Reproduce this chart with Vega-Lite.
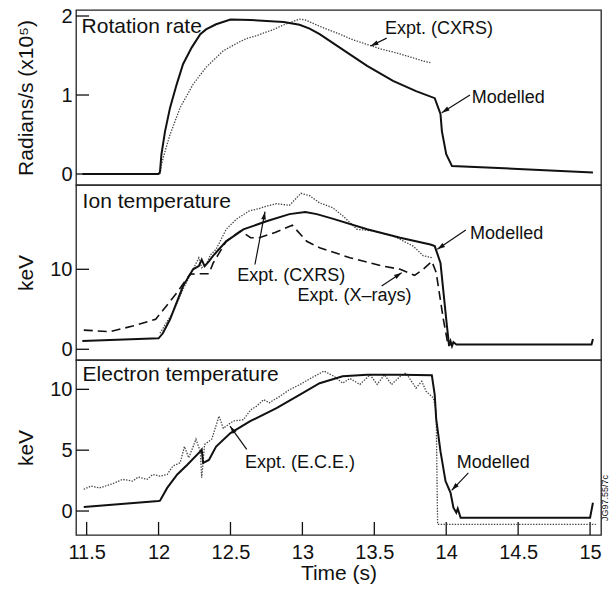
{
  "$schema": "https://vega.github.io/schema/vega-lite/v6.json",
  "background": "white",
  "padding": {"left": 14, "top": 5, "right": 0, "bottom": 0},
  "spacing": 0,
  "bounds": "flush",
  "config": {
    "font": "Liberation Sans",
    "view": {"stroke": "#222", "strokeWidth": 1.3},
    "axis": {
      "grid": false, "domain": false, "ticks": false, "tickSize": 0,
      "labelFontSize": 20, "labelColor": "#111", "labelFlush": false, "labelOverlap": false,
      "titleFontSize": 21, "titleFontWeight": "normal", "titleColor": "#111", "titleBaseline": "alphabetic"
    },
    "axisY": {"labelPadding": 4, "titleX": -44},
    "axisX": {"labelPadding": 7, "titleY": 44},
    "text": {"fontSize": 18, "color": "#111", "align": "left", "baseline": "alphabetic"}
  },
  "datasets": {
    "rotModel": [
      {"t": 11.47, "v": 0}, {"t": 12.0, "v": 0}, {"t": 12.01, "v": 0.03}, {"t": 12.02, "v": 0.25},
      {"t": 12.045, "v": 0.54}, {"t": 12.08, "v": 0.84}, {"t": 12.126, "v": 1.135}, {"t": 12.17, "v": 1.39},
      {"t": 12.23, "v": 1.6}, {"t": 12.29, "v": 1.77}, {"t": 12.33, "v": 1.83}, {"t": 12.4, "v": 1.895},
      {"t": 12.5, "v": 1.955}, {"t": 12.64, "v": 1.95}, {"t": 12.87, "v": 1.925}, {"t": 12.98, "v": 1.89},
      {"t": 13.05, "v": 1.84}, {"t": 13.12, "v": 1.77}, {"t": 13.26, "v": 1.6}, {"t": 13.45, "v": 1.37},
      {"t": 13.63, "v": 1.18}, {"t": 13.79, "v": 1.05}, {"t": 13.92, "v": 0.96}, {"t": 13.96, "v": 0.76},
      {"t": 13.97, "v": 0.54}, {"t": 14.0, "v": 0.25}, {"t": 14.04, "v": 0.1}, {"t": 14.5, "v": 0.065},
      {"t": 15.02, "v": 0.02}
    ],
    "rotCXRS": [
      {"t": 12.01, "v": 0}, {"t": 12.02, "v": 0.12}, {"t": 12.05, "v": 0.32}, {"t": 12.08, "v": 0.5},
      {"t": 12.15, "v": 0.84}, {"t": 12.24, "v": 1.135}, {"t": 12.33, "v": 1.35}, {"t": 12.45, "v": 1.56},
      {"t": 12.57, "v": 1.68}, {"t": 12.62, "v": 1.72}, {"t": 12.68, "v": 1.75}, {"t": 12.74, "v": 1.79},
      {"t": 12.8, "v": 1.83}, {"t": 12.86, "v": 1.88}, {"t": 12.91, "v": 1.915}, {"t": 12.98, "v": 1.96},
      {"t": 13.02, "v": 1.95}, {"t": 13.12, "v": 1.87}, {"t": 13.26, "v": 1.77}, {"t": 13.35, "v": 1.7},
      {"t": 13.45, "v": 1.64}, {"t": 13.55, "v": 1.58}, {"t": 13.65, "v": 1.535}, {"t": 13.77, "v": 1.47},
      {"t": 13.84, "v": 1.43}, {"t": 13.89, "v": 1.41}
    ],
    "ionModel": [
      {"t": 11.47, "v": 1.04}, {"t": 12.0, "v": 1.37}, {"t": 12.03, "v": 2.0}, {"t": 12.08, "v": 3.75},
      {"t": 12.17, "v": 7.9}, {"t": 12.24, "v": 10.0}, {"t": 12.28, "v": 10.4}, {"t": 12.3, "v": 11.2},
      {"t": 12.32, "v": 10.4}, {"t": 12.35, "v": 11.0}, {"t": 12.38, "v": 11.7}, {"t": 12.47, "v": 13.5},
      {"t": 12.59, "v": 15.0}, {"t": 12.75, "v": 16.0}, {"t": 12.91, "v": 16.9}, {"t": 13.02, "v": 17.15},
      {"t": 13.1, "v": 16.9}, {"t": 13.215, "v": 16.3}, {"t": 13.45, "v": 15.0}, {"t": 13.68, "v": 13.95},
      {"t": 13.89, "v": 13.1}, {"t": 13.92, "v": 12.9}, {"t": 13.96, "v": 10.8}, {"t": 14.0, "v": 3.75},
      {"t": 14.02, "v": 0.4}, {"t": 14.03, "v": 1.0}, {"t": 14.04, "v": 0.4}, {"t": 14.05, "v": 0.9},
      {"t": 14.07, "v": 0.6}, {"t": 15.01, "v": 0.6}, {"t": 15.02, "v": 1.3}
    ],
    "ionCXRS": [
      {"t": 12.01, "v": 2.0}, {"t": 12.06, "v": 3.5}, {"t": 12.1, "v": 4.6}, {"t": 12.17, "v": 7.5},
      {"t": 12.24, "v": 10.0}, {"t": 12.28, "v": 11.45}, {"t": 12.3, "v": 10.2}, {"t": 12.33, "v": 10.5},
      {"t": 12.36, "v": 11.8}, {"t": 12.4, "v": 12.5}, {"t": 12.47, "v": 15.0}, {"t": 12.54, "v": 16.25},
      {"t": 12.63, "v": 17.3}, {"t": 12.7, "v": 17.6}, {"t": 12.75, "v": 17.9}, {"t": 12.82, "v": 18.2},
      {"t": 12.91, "v": 18.0}, {"t": 12.99, "v": 19.5}, {"t": 13.05, "v": 19.2}, {"t": 13.12, "v": 18.3},
      {"t": 13.21, "v": 17.7}, {"t": 13.28, "v": 16.7}, {"t": 13.38, "v": 15.0}, {"t": 13.49, "v": 14.8},
      {"t": 13.63, "v": 14.2}, {"t": 13.77, "v": 12.9}, {"t": 13.84, "v": 11.7}, {"t": 13.9, "v": 11.45}
    ],
    "ionXray": [
      {"t": 11.48, "v": 2.4}, {"t": 11.66, "v": 2.2}, {"t": 11.82, "v": 2.9}, {"t": 11.98, "v": 3.75},
      {"t": 12.12, "v": 6.9}, {"t": 12.22, "v": 9.4}, {"t": 12.31, "v": 9.45}, {"t": 12.35, "v": 9.45},
      {"t": 12.38, "v": 10.8}, {"t": 12.47, "v": 13.5}, {"t": 12.57, "v": 14.8}, {"t": 12.64, "v": 13.95},
      {"t": 12.7, "v": 13.95}, {"t": 12.81, "v": 14.6}, {"t": 12.93, "v": 15.5}, {"t": 13.03, "v": 13.5},
      {"t": 13.12, "v": 12.7}, {"t": 13.33, "v": 11.45}, {"t": 13.56, "v": 10.4}, {"t": 13.68, "v": 10.0},
      {"t": 13.78, "v": 9.25}, {"t": 13.84, "v": 10.0}, {"t": 13.9, "v": 11.0}, {"t": 13.93, "v": 9.6},
      {"t": 13.98, "v": 3.75}, {"t": 14.01, "v": 0.8}
    ],
    "elModel": [
      {"t": 11.48, "v": 0.33}, {"t": 12.0, "v": 0.82}, {"t": 12.01, "v": 0.85}, {"t": 12.06, "v": 1.9},
      {"t": 12.13, "v": 3.0}, {"t": 12.2, "v": 3.8}, {"t": 12.29, "v": 4.9}, {"t": 12.3, "v": 5.05},
      {"t": 12.31, "v": 3.96}, {"t": 12.35, "v": 4.2}, {"t": 12.4, "v": 5.3}, {"t": 12.5, "v": 6.4},
      {"t": 12.64, "v": 7.4}, {"t": 12.82, "v": 8.45}, {"t": 12.98, "v": 9.55}, {"t": 13.12, "v": 10.5},
      {"t": 13.28, "v": 11.07}, {"t": 13.45, "v": 11.2}, {"t": 13.68, "v": 11.2}, {"t": 13.9, "v": 11.15},
      {"t": 13.92, "v": 9.55}, {"t": 13.93, "v": 7.6}, {"t": 13.96, "v": 4.9}, {"t": 13.995, "v": 2.46},
      {"t": 14.03, "v": 1.5}, {"t": 14.05, "v": 0.27}, {"t": 14.07, "v": -0.14}, {"t": 14.08, "v": 0.2},
      {"t": 14.1, "v": -0.55}, {"t": 15.0, "v": -0.55}, {"t": 15.02, "v": 0.68}
    ],
    "elECE": [
      {"t": 11.48, "v": 1.78}, {"t": 11.53, "v": 2.05}, {"t": 11.59, "v": 1.9}, {"t": 11.68, "v": 2.24},
      {"t": 11.75, "v": 2.6}, {"t": 11.82, "v": 2.46}, {"t": 11.86, "v": 2.8}, {"t": 11.92, "v": 2.6},
      {"t": 11.96, "v": 3.0}, {"t": 12.01, "v": 2.87}, {"t": 12.06, "v": 3.0}, {"t": 12.1, "v": 3.7},
      {"t": 12.15, "v": 3.96}, {"t": 12.18, "v": 5.3}, {"t": 12.21, "v": 4.37}, {"t": 12.26, "v": 5.9},
      {"t": 12.29, "v": 4.9}, {"t": 12.3, "v": 2.73}, {"t": 12.32, "v": 5.47}, {"t": 12.37, "v": 5.9},
      {"t": 12.42, "v": 7.8}, {"t": 12.45, "v": 6.8}, {"t": 12.52, "v": 7.4}, {"t": 12.59, "v": 7.5},
      {"t": 12.64, "v": 8.3}, {"t": 12.68, "v": 8.6}, {"t": 12.73, "v": 9.15}, {"t": 12.77, "v": 8.9},
      {"t": 12.84, "v": 9.4}, {"t": 12.91, "v": 9.97}, {"t": 12.98, "v": 10.38}, {"t": 13.05, "v": 10.85},
      {"t": 13.15, "v": 11.5}, {"t": 13.22, "v": 11.07}, {"t": 13.28, "v": 10.5}, {"t": 13.33, "v": 10.9},
      {"t": 13.4, "v": 10.4}, {"t": 13.47, "v": 11.2}, {"t": 13.52, "v": 10.4}, {"t": 13.57, "v": 11.2},
      {"t": 13.62, "v": 10.4}, {"t": 13.68, "v": 11.07}, {"t": 13.72, "v": 11.34}, {"t": 13.79, "v": 10.1},
      {"t": 13.83, "v": 10.66}, {"t": 13.86, "v": 9.84}, {"t": 13.91, "v": 9.3}, {"t": 13.93, "v": 8.2},
      {"t": 13.94, "v": -1.09}, {"t": 15.04, "v": -1.09}
    ],
    "notes": [
      {"panel": "rot", "text": "Rotation rate", "t": 11.465, "v": 1.78, "kind": "title"},
      {"panel": "rot", "text": "Expt. (CXRS)", "t": 13.574, "v": 1.77, "kind": "note"},
      {"panel": "rot", "text": "Modelled", "t": 14.177, "v": 0.9, "kind": "note"},
      {"panel": "ion", "text": "Ion temperature", "t": 11.472, "v": 17.7, "kind": "title"},
      {"panel": "ion", "text": "Modelled", "t": 14.166, "v": 13.75, "kind": "note"},
      {"panel": "ion", "text": "Expt. (CXRS)", "t": 12.547, "v": 8.54, "kind": "note"},
      {"panel": "ion", "text": "Expt. (X–rays)", "t": 12.966, "v": 6.04, "kind": "note"},
      {"panel": "el", "text": "Electron temperature", "t": 11.472, "v": 10.71, "kind": "title"},
      {"panel": "el", "text": "Expt. (E.C.E.)", "t": 12.601, "v": 3.55, "kind": "note"},
      {"panel": "el", "text": "Modelled", "t": 14.073, "v": 3.55, "kind": "note"}
    ],
    "arrows": [
      {"panel": "rot", "t": 13.586, "v": 1.72, "t2": 13.475, "v2": 1.62},
      {"panel": "rot", "t": 14.165, "v": 1.0, "t2": 13.969, "v2": 0.776},
      {"panel": "ion", "t": 14.136, "v": 14.9, "t2": 13.938, "v2": 12.5},
      {"panel": "ion", "t": 12.67, "v": 10.6, "t2": 12.74, "v2": 17.2},
      {"panel": "ion", "t": 13.551, "v": 7.9, "t2": 13.69, "v2": 9.575},
      {"panel": "el", "t": 12.613, "v": 5.06, "t2": 12.497, "v2": 6.97},
      {"panel": "el", "t": 14.154, "v": 3.14, "t2": 14.038, "v2": 1.7}
    ],
    "yTicks": [
      {"panel": "rot", "v": 0, "t": 11.426, "t2": 11.5164, "v2": 0},
      {"panel": "rot", "v": 1, "t": 11.426, "t2": 11.5164, "v2": 1},
      {"panel": "rot", "v": 2, "t": 11.426, "t2": 11.5164, "v2": 2},
      {"panel": "ion", "v": 0, "t": 11.426, "t2": 11.5164, "v2": 0},
      {"panel": "ion", "v": 10, "t": 11.426, "t2": 11.5164, "v2": 10},
      {"panel": "el", "v": 0, "t": 11.426, "t2": 11.5164, "v2": 0},
      {"panel": "el", "v": 5, "t": 11.426, "t2": 11.5164, "v2": 5},
      {"panel": "el", "v": 10, "t": 11.426, "t2": 11.5164, "v2": 10}
    ],
    "xTicks": [
      {"t": 11.5, "t2": 11.5, "v": -1.97, "v2": -0.902}, {"t": 12, "t2": 12, "v": -1.97, "v2": -0.902},
      {"t": 12.5, "t2": 12.5, "v": -1.97, "v2": -0.902}, {"t": 13, "t2": 13, "v": -1.97, "v2": -0.902},
      {"t": 13.5, "t2": 13.5, "v": -1.97, "v2": -0.902}, {"t": 14, "t2": 14, "v": -1.97, "v2": -0.902},
      {"t": 14.5, "t2": 14.5, "v": -1.97, "v2": -0.902}, {"t": 15, "t2": 15, "v": -1.97, "v2": -0.902}
    ]
  },
  "vconcat": [
    {
      "width": 525, "height": 175,
      "encoding": {
        "x": {"field": "t", "type": "quantitative", "scale": {"domain": [11.426, 15.076], "nice": false, "zero": false}, "axis": null},
        "y": {"field": "v", "type": "quantitative", "scale": {"domain": [-0.139, 2.076], "nice": false, "zero": false},
              "axis": {"title": "Radians/s (x10⁵)", "values": [0, 1, 2]}}
      },
      "layer": [
        {"data": {"name": "yTicks"}, "transform": [{"filter": "datum.panel === 'rot'"}],
         "mark": {"type": "rule", "color": "#111", "strokeWidth": 1.3},
         "encoding": {"x2": {"field": "t2"}, "y2": {"field": "v2"}}},
        {"data": {"name": "rotCXRS"}, "mark": {"type": "line", "color": "#444", "strokeWidth": 1.3, "strokeDash": [1.4, 1.4]}},
        {"data": {"name": "rotModel"}, "mark": {"type": "line", "color": "#111", "strokeWidth": 2}},
        {"data": {"name": "notes"}, "transform": [{"filter": "datum.panel === 'rot'"}],
         "mark": {"type": "text"},
         "encoding": {"text": {"field": "text"},
                      "size": {"condition": {"test": "datum.kind === 'title'", "value": 21}, "value": 18}}},
        {"data": {"name": "arrows"}, "transform": [{"filter": "datum.panel === 'rot'"}],
         "mark": {"type": "rule", "color": "#111", "strokeWidth": 1.2},
         "encoding": {"x2": {"field": "t2"}, "y2": {"field": "v2"}}},
        {"data": {"name": "arrows"},
         "transform": [{"filter": "datum.panel === 'rot'"},
                       {"calculate": "atan2((datum.t2 - datum.t) * 143.8, (datum.v2 - datum.v) * 79) * 180 / PI", "as": "heading"}],
         "mark": {"type": "point", "shape": "M0,0L0.6,2L-0.6,2Z", "filled": true, "color": "#111", "size": 60, "opacity": 1},
         "encoding": {"x": {"field": "t2", "type": "quantitative"}, "y": {"field": "v2", "type": "quantitative"},
                      "angle": {"field": "heading", "type": "quantitative", "scale": null}}}
      ]
    },
    {
      "width": 525, "height": 175,
      "encoding": {
        "x": {"field": "t", "type": "quantitative", "scale": {"domain": [11.426, 15.076], "nice": false, "zero": false}, "axis": null},
        "y": {"field": "v", "type": "quantitative", "scale": {"domain": [-1.34, 20.54], "nice": false, "zero": false},
              "axis": {"title": "keV", "values": [0, 10]}}
      },
      "layer": [
        {"data": {"name": "yTicks"}, "transform": [{"filter": "datum.panel === 'ion'"}],
         "mark": {"type": "rule", "color": "#111", "strokeWidth": 1.3},
         "encoding": {"x2": {"field": "t2"}, "y2": {"field": "v2"}}},
        {"data": {"name": "ionCXRS"}, "mark": {"type": "line", "color": "#444", "strokeWidth": 1.3, "strokeDash": [1.4, 1.4]}},
        {"data": {"name": "ionXray"}, "mark": {"type": "line", "color": "#111", "strokeWidth": 1.6, "strokeDash": [9, 5]}},
        {"data": {"name": "ionModel"}, "mark": {"type": "line", "color": "#111", "strokeWidth": 2}},
        {"data": {"name": "notes"}, "transform": [{"filter": "datum.panel === 'ion'"}],
         "mark": {"type": "text"},
         "encoding": {"text": {"field": "text"},
                      "size": {"condition": {"test": "datum.kind === 'title'", "value": 21}, "value": 18}}},
        {"data": {"name": "arrows"}, "transform": [{"filter": "datum.panel === 'ion'"}],
         "mark": {"type": "rule", "color": "#111", "strokeWidth": 1.2},
         "encoding": {"x2": {"field": "t2"}, "y2": {"field": "v2"}}},
        {"data": {"name": "arrows"},
         "transform": [{"filter": "datum.panel === 'ion'"},
                       {"calculate": "atan2((datum.t2 - datum.t) * 143.8, (datum.v2 - datum.v) * 8) * 180 / PI", "as": "heading"}],
         "mark": {"type": "point", "shape": "M0,0L0.6,2L-0.6,2Z", "filled": true, "color": "#111", "size": 60, "opacity": 1},
         "encoding": {"x": {"field": "t2", "type": "quantitative"}, "y": {"field": "v2", "type": "quantitative"},
                      "angle": {"field": "heading", "type": "quantitative", "scale": null}}}
      ]
    },
    {
      "width": 525, "height": 175,
      "encoding": {
        "x": {"field": "t", "type": "quantitative", "scale": {"domain": [11.426, 15.076], "nice": false, "zero": false},
              "axis": {"title": "Time (s)", "values": [11.5, 12, 12.5, 13, 13.5, 14, 14.5, 15], "format": "~g"}},
        "y": {"field": "v", "type": "quantitative", "scale": {"domain": [-1.97, 12.41], "nice": false, "zero": false},
              "axis": {"title": "keV", "values": [0, 5, 10]}}
      },
      "layer": [
        {"data": {"name": "yTicks"}, "transform": [{"filter": "datum.panel === 'el'"}],
         "mark": {"type": "rule", "color": "#111", "strokeWidth": 1.3},
         "encoding": {"x2": {"field": "t2"}, "y2": {"field": "v2"}}},
        {"data": {"name": "xTicks"},
         "mark": {"type": "rule", "color": "#111", "strokeWidth": 1.3},
         "encoding": {"x2": {"field": "t2"}, "y2": {"field": "v2"}}},
        {"data": {"name": "elECE"}, "mark": {"type": "line", "color": "#444", "strokeWidth": 1.3, "strokeDash": [1.4, 1.4]}},
        {"data": {"name": "elModel"}, "mark": {"type": "line", "color": "#111", "strokeWidth": 2}},
        {"data": {"name": "notes"}, "transform": [{"filter": "datum.panel === 'el'"}],
         "mark": {"type": "text"},
         "encoding": {"text": {"field": "text"},
                      "size": {"condition": {"test": "datum.kind === 'title'", "value": 21}, "value": 18}}},
        {"data": {"values": [{"text": "JG97.55/7c", "t": 15.125, "v": 1.07}]},
         "mark": {"type": "text", "angle": 270, "align": "center", "fontSize": 9},
         "encoding": {"text": {"field": "text"}}},
        {"data": {"name": "arrows"}, "transform": [{"filter": "datum.panel === 'el'"}],
         "mark": {"type": "rule", "color": "#111", "strokeWidth": 1.2},
         "encoding": {"x2": {"field": "t2"}, "y2": {"field": "v2"}}},
        {"data": {"name": "arrows"},
         "transform": [{"filter": "datum.panel === 'el'"},
                       {"calculate": "atan2((datum.t2 - datum.t) * 143.8, (datum.v2 - datum.v) * 12.17) * 180 / PI", "as": "heading"}],
         "mark": {"type": "point", "shape": "M0,0L0.6,2L-0.6,2Z", "filled": true, "color": "#111", "size": 60, "opacity": 1},
         "encoding": {"x": {"field": "t2", "type": "quantitative"}, "y": {"field": "v2", "type": "quantitative"},
                      "angle": {"field": "heading", "type": "quantitative", "scale": null}}}
      ]
    }
  ]
}
